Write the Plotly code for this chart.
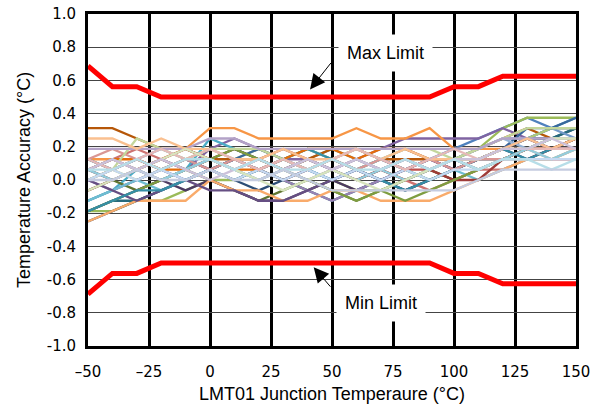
import plotly.graph_objects as go

# Junction temperature points (°C)
temps = [-50, -40, -30, -20, -10, 0, 10, 20, 30, 40, 50, 60, 70, 80, 90, 100, 110, 120, 130, 140, 150]

# Limits (°C)
max_limit = [0.6875, 0.5625, 0.5625, 0.5, 0.5, 0.5, 0.5, 0.5, 0.5, 0.5, 0.5, 0.5, 0.5, 0.5, 0.5,
             0.5625, 0.5625, 0.625, 0.625, 0.625, 0.625]
min_limit = [-0.6875, -0.5625, -0.5625, -0.5, -0.5, -0.5, -0.5, -0.5, -0.5, -0.5, -0.5, -0.5, -0.5, -0.5, -0.5,
             -0.5625, -0.5625, -0.625, -0.625, -0.625, -0.625]

# Device errors, in LSB codes of 0.0625 °C
LSB = 0.0625
dev01 = [-2, -1, 0, 1, 0, 1, 2, 1, 2, 1, 0, 1, 2, 1, 2, 3, 4, 5, 6, 5, 5]
dev02 = [0, 1, 2, 1, 2, 1, 2, 1, 0, 1, 2, 1, 0, 1, 1, 0, 1, 2, 2, 3, 3]
dev03 = [-3, -3, -2, -2, -1, 0, 0, 1, 0, -1, 0, -1, -1, 0, 1, 2, 3, 5, 6, 6, 6]
dev04 = [1, 2, 1, 2, 1, 3, 4, 3, 2, 2, 1, 2, 3, 4, 4, 4, 4, 5, 4, 5, 5]
dev05 = [-2, -1, 1, 2, 1, 4, 3, 2, 1, 2, 3, 2, 1, 2, 1, 2, 2, 3, 4, 5, 6]
dev06 = [2, 2, 1, 2, 3, 5, 5, 4, 4, 4, 4, 5, 4, 4, 5, 3, 3, 3, 4, 3, 4]
dev07 = [-4, -3, -2, -1, 0, 1, 0, -1, 0, 1, 0, 1, 0, -1, 0, 1, 2, 3, 4, 4, 5]
dev08 = [1, 0, 1, 0, 1, 2, 3, 2, 1, 2, 1, 0, 1, 2, 1, 2, 1, 2, 3, 3, 4]
dev09 = [-1, 0, -1, 0, 1, 0, -1, -2, -1, 0, -1, -2, -1, 0, 1, 0, 1, 2, 3, 4, 4]
dev10 = [-3, -2, -1, 0, -1, 0, -1, -2, -2, -1, 0, -1, 0, -1, 0, 1, 2, 3, 2, 3, 4]
dev11 = [-3, -2, -2, -1, 0, 1, 2, 1, 0, -1, -2, -1, 0, 1, 0, 1, 2, 2, 3, 4, 5]
dev12 = [5, 5, 4, 3, 3, 2, 2, 2, 1, 2, 3, 3, 2, 2, 2, 2, 3, 4, 5, 4, 4]
dev13 = [0, 1, 2, 3, 2, 1, 0, 1, 2, 3, 2, 1, 2, 3, 2, 2, 3, 4, 4, 5, 4]
dev14 = [1, 2, 3, 2, 1, 2, 1, 0, 1, 0, 1, 2, 1, 0, -1, 0, 1, 1, 2, 2, 2]
dev15 = [2, 1, 0, 1, 2, 3, 2, 3, 2, 3, 2, 1, 2, 1, 0, 1, 2, 3, 4, 5, 5]
dev16 = [0, -1, 0, 1, 0, 1, 0, 1, 0, -1, -2, -1, 0, 1, 2, 1, 2, 3, 4, 3, 4]
dev17 = [-2, -1, 0, -1, 0, 1, 2, 1, 2, 1, 0, 1, 2, 1, 0, 1, 0, 1, 2, 2, 3]
dev18 = [-4, -3, -2, -2, -2, 0, -1, -1, -2, -2, -1, -1, -2, -2, -2, -1, 0, 1, 2, 2, 3]
dev19 = [2, 1, 2, 1, 2, 1, 2, 3, 2, 1, 2, 3, 2, 1, 2, 1, 2, 3, 5, 5, 6]
dev20 = [-1, 0, 1, 2, 3, 2, 1, 2, 3, 2, 1, 0, 1, 0, 1, 0, 0, 2, 3, 3, 3]
dev21 = [-3, -2, -1, 0, 1, 2, 3, 2, 1, 0, -1, -2, -1, -2, -1, 0, 1, 2, 3, 4, 4]
dev22 = [0, -1, -2, -1, 0, -1, -1, -2, -2, -1, 0, 1, 0, 1, 2, 1, 2, 3, 4, 3, 3]
dev23 = [-3, -2, -1, -1, 0, 1, 0, 1, 2, 3, 2, 1, 0, -1, 0, 1, 2, 3, 2, 3, 4]
dev24 = [1, 2, 2, 1, 1, 2, 1, 1, 2, 3, 3, 2, 3, 3, 2, 2, 2, 3, 3, 3, 4]
dev25 = [1, 2, 1, 0, 1, 2, 1, 0, 1, 2, 1, 2, 1, 2, 1, 2, 3, 4, 3, 4, 4]
dev26 = [2, 3, 2, 1, 2, 1, 2, 1, 2, 1, 2, 1, 2, 1, 2, 1, 2, 2, 3, 2, 2]
dev27 = [0, 1, 4, 3, 2, 3, 3, 3, 2, 1, 2, 3, 2, 3, 3, 2, 3, 4, 5, 5, 5]
dev28 = [3, 3, 3, 3, 3, 4, 4, 3, 3, 3, 3, 3, 3, 3, 3, 3, 3, 4, 4, 4, 4]
dev29 = [1, 0, 1, 0, 1, 2, 1, 0, 1, 0, 1, 0, 1, 0, 1, 2, 1, 2, 3, 2, 3]
dev30 = [4, 4, 3, 4, 3, 3, 2, 2, 3, 2, 2, 3, 2, 3, 2, 2, 2, 3, 4, 3, 4]
dev31 = [0, 1, 0, 1, 0, 1, 0, 1, 0, 1, 0, 1, 0, 1, 0, 1, 1, 2, 2, 2, 2]
dev32 = [2, 1, 2, 3, 2, 3, 2, 1, 2, 1, 2, 3, 2, 1, 2, 3, 2, 3, 3, 3, 3]
dev33 = [-1, 0, 1, 2, 3, 2, 1, 0, -1, 0, 1, 0, -1, 0, 1, 2, 2, 3, 3, 4, 4]
dev34 = [1, 2, 1, 2, 1, 0, 1, 2, 1, 2, 1, 2, 1, 2, 1, 2, 2, 3, 3, 4, 3]
dev35 = [1, 1, 2, 1, 2, 2, 1, 2, 1, 1, 2, 1, 1, 2, 1, 2, 1, 2, 2, 1, 2]
dev36 = [0, 0, 1, 0, 0, 1, 0, 0, 1, 0, -1, -1, -1, -1, -1, -1, 0, 1, 1, 1, 1]

devices = [dev01, dev02, dev03, dev04, dev05, dev06, dev07, dev08, dev09, dev10, dev11, dev12,
           dev13, dev14, dev15, dev16, dev17, dev18, dev19, dev20, dev21, dev22, dev23, dev24,
           dev25, dev26, dev27, dev28, dev29, dev30, dev31, dev32, dev33, dev34, dev35, dev36]

colors = ["#4F81BD", "#C0504D", "#9BBB59", "#8064A2", "#4BACC6", "#F79646",
          "#2C4D75", "#772C2A", "#5F7530", "#4D3B62", "#276A7C", "#B65708",
          "#729ACA", "#CD7371", "#AFC97A", "#9983B5", "#6FBDD1", "#F9AB6B",
          "#3A679C", "#9F3B38", "#7E9D40", "#664F83", "#358EA6", "#E46C0A",
          "#95B3D7", "#D99694", "#C3D69B", "#B3A2C7", "#93CDDD", "#FAC090",
          "#C6D9F1", "#E6B9B8", "#D7E4BD", "#CCC1DA", "#B7DEE8", "#C5CCE0"]

x_tickvals = [-50, -25, 0, 25, 50, 75, 100, 125, 150]
x_ticktext = ["\u201350", "\u201325", "0", "25", "50", "75", "100", "125", "150"]
y_tickvals = [-1.0, -0.8, -0.6, -0.4, -0.2, 0.0, 0.2, 0.4, 0.6, 0.8, 1.0]
y_ticktext = ["-1.0", "-0.8", "-0.6", "-0.4", "-0.2", "0.0", "0.2", "0.4", "0.6", "0.8", "1.0"]

fig = go.Figure()
for dev, col in zip(devices, colors):
    fig.add_trace(go.Scatter(x=temps, y=[c * LSB for c in dev], mode="lines",
                             line=dict(color=col, width=2.3), hoverinfo="skip", showlegend=False))

fig.add_trace(go.Scatter(x=temps, y=max_limit, mode="lines",
                         line=dict(color="#FF0000", width=5), showlegend=False))
fig.add_trace(go.Scatter(x=temps, y=min_limit, mode="lines",
                         line=dict(color="#FF0000", width=5), showlegend=False))

tick_font = dict(family="DejaVu Sans", size=15, color="black")
title_font = dict(family="Liberation Sans, Arial", size=18, color="black")

fig.update_layout(
    width=602, height=411,
    margin=dict(l=88, r=26, t=14, b=65),
    paper_bgcolor="white", plot_bgcolor="white",
    xaxis=dict(range=[-50, 150], tickvals=x_tickvals, ticktext=x_ticktext, automargin=False,
               showgrid=True, gridcolor="black", gridwidth=2.5,
               showline=True, linecolor="black", linewidth=3, mirror=True,
               zeroline=False, ticks="", tickfont=tick_font, ticklabelstandoff=10,
               title=dict(text="LMT01 Junction Temperaure (\u00b0C)", font=title_font, standoff=8)),
    yaxis=dict(range=[-1, 1], tickvals=y_tickvals, ticktext=y_ticktext, automargin=False,
               showgrid=True, gridcolor="#444444", gridwidth=1,
               showline=True, linecolor="black", linewidth=3, mirror=True,
               zeroline=False, ticks="", tickfont=tick_font, ticklabelstandoff=6,
               title=dict(text="Temperature Accuracy (\u00b0C)", font=title_font, standoff=12)),
    annotations=[
        dict(x=41, y=0.545, xref="x", yref="y", text="", showarrow=True,
             ax=22, ay=-28, arrowhead=2, arrowsize=3, arrowwidth=1, arrowcolor="black"),
        dict(x=71.9, y=0.767, xref="x", yref="y", text="Max Limit", showarrow=False,
             font=title_font, bgcolor="white", borderpad=8),
        dict(x=42.5, y=-0.525, xref="x", yref="y", text="", showarrow=True,
             ax=18, ay=21, arrowhead=2, arrowsize=3, arrowwidth=1, arrowcolor="black"),
        dict(x=69.9, y=-0.742, xref="x", yref="y", text="Min Limit", showarrow=False,
             font=title_font, bgcolor="white", borderpad=8),
    ],
)

fig.write_html("out.html", config={"displayModeBar": False},
               post_script="document.body.style.margin='0';")
